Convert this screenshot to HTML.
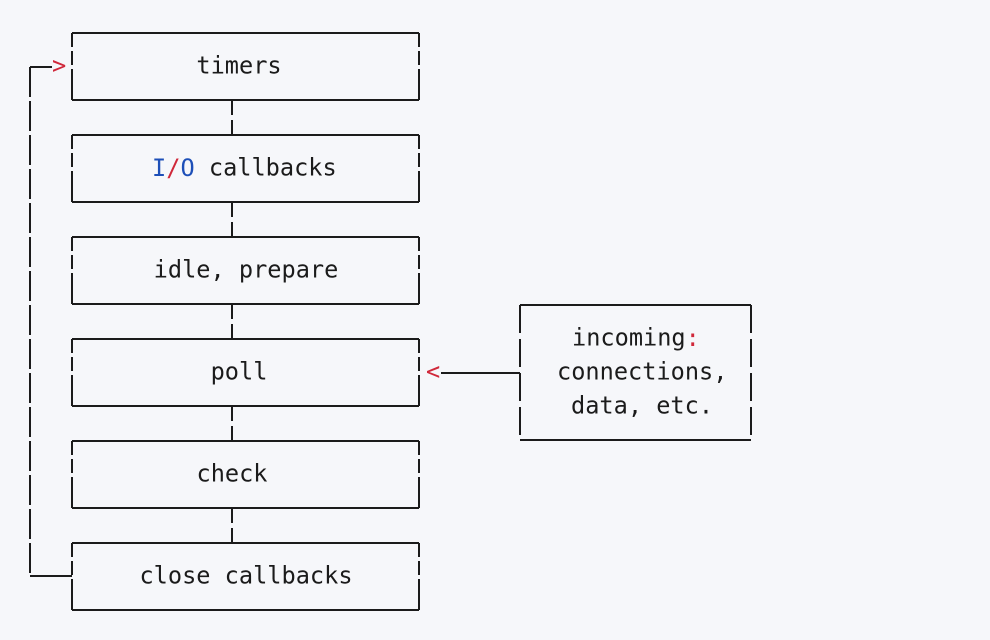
<!DOCTYPE html>
<html><head><style>
html,body{margin:0;padding:0;background:#f6f7fa;}
svg{display:block}
text{font-family:"DejaVu Sans Mono","Liberation Mono",monospace;font-size:23.6px;fill:#1b1b1b;dominant-baseline:middle}
</style></head><body>
<svg width="990" height="640" viewBox="0 0 990 640">
<g stroke="#1b1b1b" stroke-width="2" fill="none">
<path d="M72 33H419M72 100H419 M72 135H419M72 202H419 M72 237H419M72 304H419 M72 339H419M72 406H419 M72 441H419M72 508H419 M72 543H419M72 610H419"/>
<g stroke-dasharray="14 4 14 4 39">
<path d="M72 33V100M419 33V100 M72 135V202M419 135V202 M72 237V304M419 237V304 M72 339V406M419 339V406 M72 441V508M419 441V508 M72 543V610M419 543V610"/>
</g>
<path d="M232 100V115M232 120V135 M232 202V217M232 222V237 M232 304V319M232 324V339 M232 406V421M232 426V441 M232 508V523M232 528V543"/>
<path d="M30 576H72 M30 67H52" />
<path d="M30 67V576" stroke-dasharray="30 4"/>
<path d="M520 305H751M520 440H751"/>
<path d="M520 305V440M751 305V440" stroke-dasharray="28 6"/>
<path d="M441 373H520"/>
</g>
<text x="52" y="67" style="fill:#d0283a">&gt;</text>
<text x="426" y="373" style="fill:#d0283a">&lt;</text>
<text x="239" y="67" text-anchor="middle">timers</text>
<text x="152" y="169"><tspan style="fill:#1d4fb8">I</tspan><tspan style="fill:#d0283a">/</tspan><tspan style="fill:#1d4fb8">O</tspan> callbacks</text>
<text x="246" y="271" text-anchor="middle">idle, prepare</text>
<text x="239" y="373" text-anchor="middle">poll</text>
<text x="232" y="475" text-anchor="middle">check</text>
<text x="246" y="577" text-anchor="middle">close callbacks</text>
<text x="572" y="339">incoming<tspan style="fill:#d0283a">:</tspan></text>
<text x="557" y="373">connections,</text>
<text x="571" y="407">data, etc.</text>
</svg>
</body></html>
